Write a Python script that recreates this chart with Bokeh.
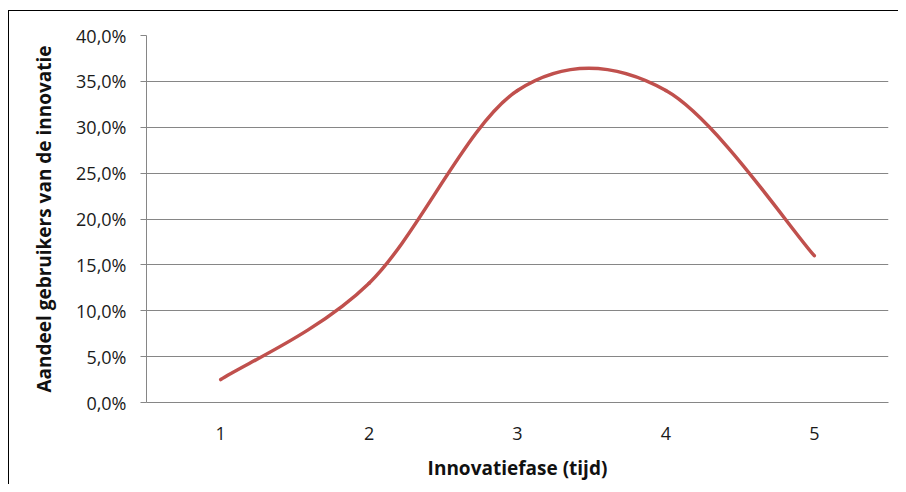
from bokeh.plotting import figure
from bokeh.models import FixedTicker, ColumnDataSource
from bokeh.embed import file_html
from bokeh.resources import INLINE

# Data
phases = [1, 2, 3, 4, 5]
share = [2.5, 13.0, 34.0, 34.0, 16.0]  # percent
y_ticks = [0, 5, 10, 15, 20, 25, 30, 35, 40]
y_tick_labels = ["0,0%", "5,0%", "10,0%", "15,0%", "20,0%", "25,0%", "30,0%", "35,0%", "40,0%"]
x_tick_labels = ["1", "2", "3", "4", "5"]

# Smoothed line (Excel-style cubic Bezier through the points)
n = len(phases)
seg = dict(x0=[], y0=[], x1=[], y1=[], cx0=[], cy0=[], cx1=[], cy1=[])
for i in range(n - 1):
    xp, yp = (phases[i - 1], share[i - 1]) if i > 0 else (phases[i], share[i])
    xn, yn = (phases[i + 2], share[i + 2]) if i + 2 < n else (phases[i + 1], share[i + 1])
    seg["x0"].append(phases[i]); seg["y0"].append(share[i])
    seg["x1"].append(phases[i + 1]); seg["y1"].append(share[i + 1])
    seg["cx0"].append(phases[i] + (phases[i + 1] - xp) / 6)
    seg["cy0"].append(share[i] + (share[i + 1] - yp) / 6)
    seg["cx1"].append(phases[i + 1] - (xn - phases[i]) / 6)
    seg["cy1"].append(share[i + 1] - (yn - share[i]) / 6)
src = ColumnDataSource(seg)

FONT = "Open Sans"
GRID = "#868686"

p = figure(width=898, height=484, x_range=(0.5, 5.5), y_range=(0, 40),
           output_backend="svg", toolbar_location=None,
           min_border_left=146, min_border_right=10, min_border_top=35, min_border_bottom=82)
# chart-area border (top and left edge visible, as in the reference crop)
p.styles = {
    "background": "linear-gradient(#000,#000) 8px 10px / 1px 100% no-repeat, "
                  "linear-gradient(#000,#000) 8px 10px / 100% 1px no-repeat, #ffffff",
}
p.outline_line_color = None
p.background_fill_color = "white"
p.border_fill_color = None

p.bezier(x0="x0", y0="y0", x1="x1", y1="y1", cx0="cx0", cy0="cy0", cx1="cx1", cy1="cy1",
         source=src, line_color="#C0504D", line_width=3.5, line_cap="round")

# axes
p.xaxis.ticker = FixedTicker(ticks=phases)
p.xaxis.major_label_overrides = {k: v for k, v in zip(phases, x_tick_labels)}
p.yaxis.ticker = FixedTicker(ticks=y_ticks)
p.yaxis.major_label_overrides = {k: v for k, v in zip(y_ticks, y_tick_labels)}

for ax in (p.xaxis, p.yaxis):
    ax.axis_line_color = GRID
    ax.major_label_text_font = FONT
    ax.major_label_text_font_size = "18px"
    ax.major_label_text_color = "#1a1a1a"
    ax.axis_label_text_font = FONT
    ax.axis_label_text_font_style = "bold"
    ax.axis_label_text_font_size = "19px"
    ax.axis_label_text_color = "#111111"
    ax.minor_tick_line_color = None

p.xaxis.major_tick_line_color = None
p.xaxis.major_label_standoff = 18
p.xaxis.axis_label = "Innovatiefase (tijd)"
p.xaxis.axis_label_standoff = 12

p.yaxis.major_tick_line_color = GRID
p.yaxis.major_tick_out = 6
p.yaxis.major_tick_in = 0
p.yaxis.major_label_standoff = 14
p.yaxis.axis_label = "Aandeel gebruikers van de innovatie"
p.yaxis.axis_label_standoff = 16

p.xgrid.grid_line_color = None
p.ygrid.grid_line_color = GRID
p.ygrid.grid_line_width = 1

open("out.html", "w").write(file_html(p, INLINE))
